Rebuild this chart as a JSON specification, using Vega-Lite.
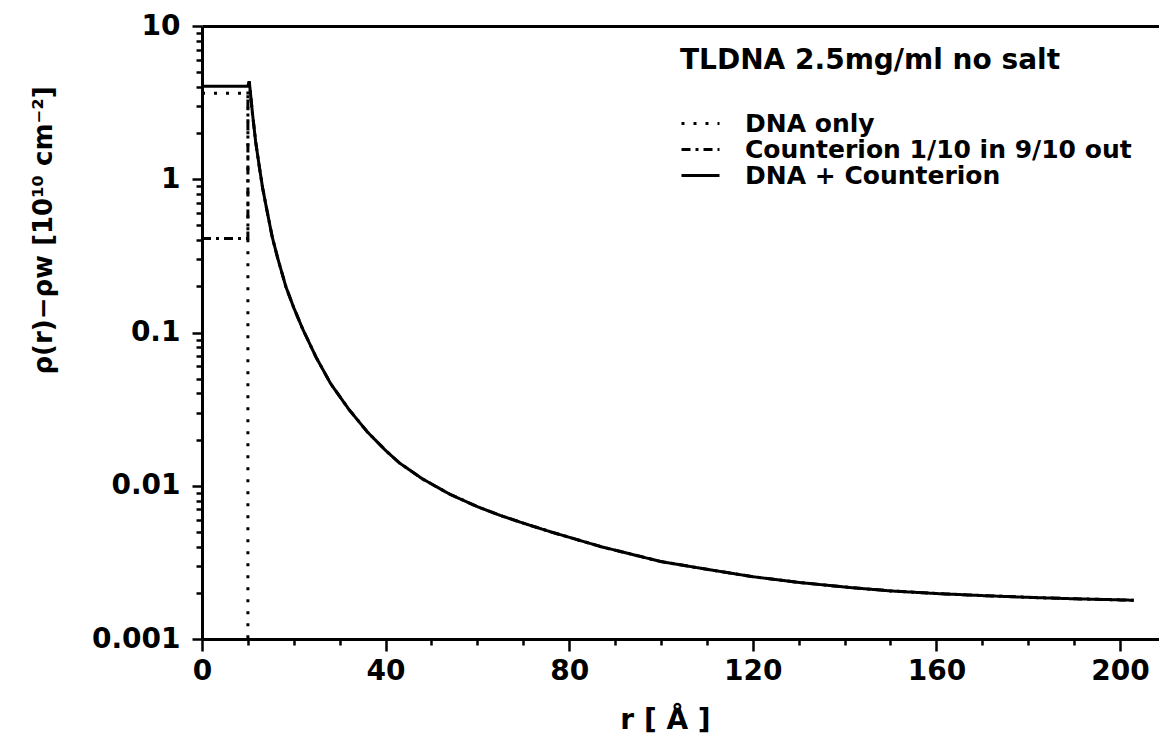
{
  "$schema": "https://vega.github.io/schema/vega-lite/v6.json",
  "width": 957,
  "height": 613,
  "autosize": {"type": "none"},
  "padding": {"left": 202, "top": 26, "right": 0, "bottom": 109},
  "background": "white",
  "config": {
    "view": {"stroke": null},
    "font": "DejaVu Sans",
    "axis": {
      "grid": false,
      "domainColor": "black",
      "tickColor": "black",
      "labelColor": "black",
      "titleColor": "black",
      "labelFont": "DejaVu Sans",
      "titleFont": "DejaVu Sans",
      "labelFontWeight": "bold",
      "titleFontWeight": "bold",
      "domainWidth": 3,
      "tickWidth": 2.5
    }
  },
  "datasets": {
    "curves": [
      {"series": "DNA only", "o": 0, "r": 0, "rho": 3.64},
      {"series": "DNA only", "o": 1, "r": 10, "rho": 3.64},
      {"series": "DNA only", "o": 2, "r": 10, "rho": 0.001},
      {"series": "Counterion 1/10 in 9/10 out", "o": 0, "r": 0, "rho": 0.41},
      {"series": "Counterion 1/10 in 9/10 out", "o": 1, "r": 10, "rho": 0.41},
      {"series": "Counterion 1/10 in 9/10 out", "o": 2, "r": 10, "rho": 4.05},
      {"series": "Counterion 1/10 in 9/10 out", "o": 3, "r": 10.3, "rho": 4.35},
      {"series": "Counterion 1/10 in 9/10 out", "o": 4, "r": 11, "rho": 2.68},
      {"series": "Counterion 1/10 in 9/10 out", "o": 5, "r": 11.7, "rho": 1.75},
      {"series": "Counterion 1/10 in 9/10 out", "o": 6, "r": 12.5, "rho": 1.2},
      {"series": "Counterion 1/10 in 9/10 out", "o": 7, "r": 13.2, "rho": 0.88},
      {"series": "Counterion 1/10 in 9/10 out", "o": 8, "r": 14, "rho": 0.66},
      {"series": "Counterion 1/10 in 9/10 out", "o": 9, "r": 15.3, "rho": 0.42},
      {"series": "Counterion 1/10 in 9/10 out", "o": 10, "r": 16.5, "rho": 0.305},
      {"series": "Counterion 1/10 in 9/10 out", "o": 11, "r": 18.3, "rho": 0.198},
      {"series": "Counterion 1/10 in 9/10 out", "o": 12, "r": 20, "rho": 0.145},
      {"series": "Counterion 1/10 in 9/10 out", "o": 13, "r": 21.9, "rho": 0.106},
      {"series": "Counterion 1/10 in 9/10 out", "o": 14, "r": 24.8, "rho": 0.0695},
      {"series": "Counterion 1/10 in 9/10 out", "o": 15, "r": 28, "rho": 0.0465},
      {"series": "Counterion 1/10 in 9/10 out", "o": 16, "r": 32, "rho": 0.0315},
      {"series": "Counterion 1/10 in 9/10 out", "o": 17, "r": 36, "rho": 0.0225},
      {"series": "Counterion 1/10 in 9/10 out", "o": 18, "r": 40, "rho": 0.017},
      {"series": "Counterion 1/10 in 9/10 out", "o": 19, "r": 43, "rho": 0.0141},
      {"series": "Counterion 1/10 in 9/10 out", "o": 20, "r": 48, "rho": 0.0111},
      {"series": "Counterion 1/10 in 9/10 out", "o": 21, "r": 54, "rho": 0.0088},
      {"series": "Counterion 1/10 in 9/10 out", "o": 22, "r": 60, "rho": 0.0073},
      {"series": "Counterion 1/10 in 9/10 out", "o": 23, "r": 65, "rho": 0.0064},
      {"series": "Counterion 1/10 in 9/10 out", "o": 24, "r": 70, "rho": 0.0057},
      {"series": "Counterion 1/10 in 9/10 out", "o": 25, "r": 76, "rho": 0.005},
      {"series": "Counterion 1/10 in 9/10 out", "o": 26, "r": 87, "rho": 0.004},
      {"series": "Counterion 1/10 in 9/10 out", "o": 27, "r": 100, "rho": 0.0032},
      {"series": "Counterion 1/10 in 9/10 out", "o": 28, "r": 110, "rho": 0.00285},
      {"series": "Counterion 1/10 in 9/10 out", "o": 29, "r": 120, "rho": 0.00255},
      {"series": "Counterion 1/10 in 9/10 out", "o": 30, "r": 130, "rho": 0.00234},
      {"series": "Counterion 1/10 in 9/10 out", "o": 31, "r": 141, "rho": 0.00217},
      {"series": "Counterion 1/10 in 9/10 out", "o": 32, "r": 150, "rho": 0.00206},
      {"series": "Counterion 1/10 in 9/10 out", "o": 33, "r": 160, "rho": 0.00198},
      {"series": "Counterion 1/10 in 9/10 out", "o": 34, "r": 170, "rho": 0.00192},
      {"series": "Counterion 1/10 in 9/10 out", "o": 35, "r": 180, "rho": 0.00187},
      {"series": "Counterion 1/10 in 9/10 out", "o": 36, "r": 190, "rho": 0.00183},
      {"series": "Counterion 1/10 in 9/10 out", "o": 37, "r": 200, "rho": 0.0018},
      {"series": "Counterion 1/10 in 9/10 out", "o": 38, "r": 203, "rho": 0.00179},
      {"series": "DNA + Counterion", "o": 0, "r": 0, "rho": 4.05},
      {"series": "DNA + Counterion", "o": 1, "r": 10, "rho": 4.05},
      {"series": "DNA + Counterion", "o": 2, "r": 10.3, "rho": 4.35},
      {"series": "DNA + Counterion", "o": 3, "r": 11, "rho": 2.68},
      {"series": "DNA + Counterion", "o": 4, "r": 11.7, "rho": 1.75},
      {"series": "DNA + Counterion", "o": 5, "r": 12.5, "rho": 1.2},
      {"series": "DNA + Counterion", "o": 6, "r": 13.2, "rho": 0.88},
      {"series": "DNA + Counterion", "o": 7, "r": 14, "rho": 0.66},
      {"series": "DNA + Counterion", "o": 8, "r": 15.3, "rho": 0.42},
      {"series": "DNA + Counterion", "o": 9, "r": 16.5, "rho": 0.305},
      {"series": "DNA + Counterion", "o": 10, "r": 18.3, "rho": 0.198},
      {"series": "DNA + Counterion", "o": 11, "r": 20, "rho": 0.145},
      {"series": "DNA + Counterion", "o": 12, "r": 21.9, "rho": 0.106},
      {"series": "DNA + Counterion", "o": 13, "r": 24.8, "rho": 0.0695},
      {"series": "DNA + Counterion", "o": 14, "r": 28, "rho": 0.0465},
      {"series": "DNA + Counterion", "o": 15, "r": 32, "rho": 0.0315},
      {"series": "DNA + Counterion", "o": 16, "r": 36, "rho": 0.0225},
      {"series": "DNA + Counterion", "o": 17, "r": 40, "rho": 0.017},
      {"series": "DNA + Counterion", "o": 18, "r": 43, "rho": 0.0141},
      {"series": "DNA + Counterion", "o": 19, "r": 48, "rho": 0.0111},
      {"series": "DNA + Counterion", "o": 20, "r": 54, "rho": 0.0088},
      {"series": "DNA + Counterion", "o": 21, "r": 60, "rho": 0.0073},
      {"series": "DNA + Counterion", "o": 22, "r": 65, "rho": 0.0064},
      {"series": "DNA + Counterion", "o": 23, "r": 70, "rho": 0.0057},
      {"series": "DNA + Counterion", "o": 24, "r": 76, "rho": 0.005},
      {"series": "DNA + Counterion", "o": 25, "r": 87, "rho": 0.004},
      {"series": "DNA + Counterion", "o": 26, "r": 100, "rho": 0.0032},
      {"series": "DNA + Counterion", "o": 27, "r": 110, "rho": 0.00285},
      {"series": "DNA + Counterion", "o": 28, "r": 120, "rho": 0.00255},
      {"series": "DNA + Counterion", "o": 29, "r": 130, "rho": 0.00234},
      {"series": "DNA + Counterion", "o": 30, "r": 141, "rho": 0.00217},
      {"series": "DNA + Counterion", "o": 31, "r": 150, "rho": 0.00206},
      {"series": "DNA + Counterion", "o": 32, "r": 160, "rho": 0.00198},
      {"series": "DNA + Counterion", "o": 33, "r": 170, "rho": 0.00192},
      {"series": "DNA + Counterion", "o": 34, "r": 180, "rho": 0.00187},
      {"series": "DNA + Counterion", "o": 35, "r": 190, "rho": 0.00183},
      {"series": "DNA + Counterion", "o": 36, "r": 200, "rho": 0.0018},
      {"series": "DNA + Counterion", "o": 37, "r": 203, "rho": 0.00179}
    ]
  },
  "data": {"name": "curves"},
  "layer": [
    {
      "mark": {"type": "line", "color": "black", "strokeWidth": 3, "strokeCap": "butt", "clip": true},
      "encoding": {
        "x": {
          "field": "r", "type": "quantitative",
          "scale": {"domain": [0, 208.5], "nice": false, "zero": false},
          "axis": {
            "orient": "bottom",
            "values": [0, 40, 80, 120, 160, 200],
            "tickSize": 12,
            "labelFontSize": 28,
            "labelPadding": 6,
            "labelFlush": false,
            "title": "r  [ Å ]",
            "titleFontSize": 28,
            "titleX": 463,
            "titleY": 89,
            "titleBaseline": "alphabetic",
            "titleAlign": "center"
          }
        },
        "y": {
          "field": "rho", "type": "quantitative",
          "scale": {"type": "log", "domain": [0.001, 10], "nice": false},
          "axis": {
            "orient": "left",
            "values": [0.001, 0.01, 0.1, 1, 10],
            "format": "~g",
            "tickSize": 10,
            "labelFontSize": 28,
            "labelPadding": 12,
            "title": "ρ(r)−ρw  [10¹⁰ cm⁻²]",
            "titleFontSize": 26,
            "titleAngle": -90,
            "titleX": -159,
            "titleY": 204,
            "titleAlign": "center",
            "titleBaseline": "middle"
          }
        },
        "strokeDash": {
          "field": "series", "type": "nominal",
          "scale": {
            "domain": ["DNA only", "Counterion 1/10 in 9/10 out", "DNA + Counterion"],
            "range": [[3, 9], [9, 5, 3, 5], [1, 0]]
          },
          "legend": {
            "orient": "none",
            "legendX": 478,
            "legendY": 21,
            "padding": 0,
            "title": "TLDNA 2.5mg/ml no salt",
            "titleFont": "DejaVu Sans",
            "titleFontSize": 28,
            "titleFontWeight": "bold",
            "titleColor": "black",
            "titleLimit": 700,
            "titlePadding": 36,
            "labelFont": "DejaVu Sans",
            "labelFontSize": 25,
            "labelFontWeight": "bold",
            "labelColor": "black",
            "labelLimit": 600,
            "labelOffset": 24,
            "symbolType": "stroke",
            "symbolSize": 1444,
            "symbolStrokeWidth": 3,
            "symbolStrokeColor": "black",
            "clipHeight": 25,
            "rowPadding": 0
          }
        },
        "order": {"field": "o", "type": "quantitative"}
      }
    },
    {
      "mark": {"type": "line", "opacity": 0},
      "encoding": {
        "x": {
          "field": "r", "type": "quantitative",
          "scale": {"domain": [0, 208.5], "nice": false, "zero": false},
          "axis": {
            "orient": "bottom",
            "values": [10, 20, 30, 50, 60, 70, 90, 100, 110, 130, 140, 150, 170, 180, 190],
            "tickSize": 6,
            "labels": false,
            "domain": false,
            "title": null
          }
        },
        "y": {
          "field": "rho", "type": "quantitative",
          "scale": {"type": "log", "domain": [0.001, 10], "nice": false},
          "axis": {
            "orient": "left",
            "values": [0.002, 0.003, 0.004, 0.005, 0.006, 0.007, 0.008, 0.009, 0.02, 0.03, 0.04, 0.05, 0.06, 0.07, 0.08, 0.09, 0.2, 0.3, 0.4, 0.5, 0.6, 0.7, 0.8, 0.9, 2, 3, 4, 5, 6, 7, 8, 9],
            "tickSize": 6,
            "labels": false,
            "domain": false,
            "title": null
          }
        },
        "detail": {"field": "series", "type": "nominal"},
        "order": {"field": "o", "type": "quantitative"}
      }
    },
    {
      "mark": {"type": "line", "opacity": 0},
      "encoding": {
        "x": {
          "field": "r", "type": "quantitative",
          "scale": {"domain": [0, 208.5], "nice": false, "zero": false},
          "axis": {
            "orient": "top",
            "ticks": false,
            "labels": false,
            "domain": true,
            "title": null
          }
        },
        "y": {
          "field": "rho", "type": "quantitative",
          "scale": {"type": "log", "domain": [0.001, 10], "nice": false},
          "axis": null
        },
        "detail": {"field": "series", "type": "nominal"},
        "order": {"field": "o", "type": "quantitative"}
      }
    }
  ],
  "resolve": {"axis": {"x": "independent", "y": "independent"}}
}
